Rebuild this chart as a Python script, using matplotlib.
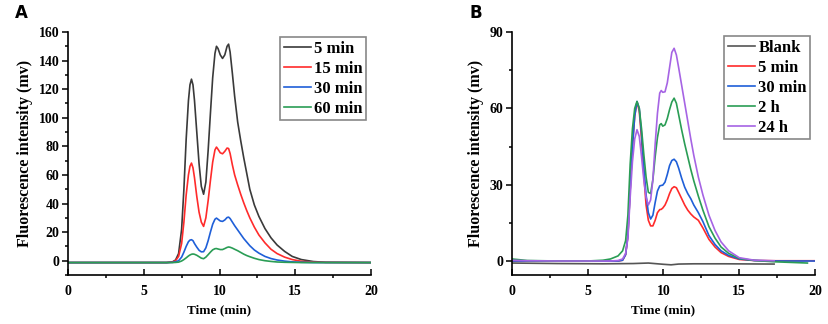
import numpy as np
import matplotlib
matplotlib.use("Agg")
import matplotlib.pyplot as plt
from matplotlib.ticker import MultipleLocator

nan = np.nan

# ---------------- Panel A data ----------------
time_a = [0, 6.5, 6.9, 7.1, 7.3, 7.5, 7.65, 7.8, 7.95, 8.05,
          8.15, 8.25, 8.35, 8.5, 8.65, 8.8, 8.95, 9.1, 9.25, 9.4,
          9.55, 9.7, 9.8, 9.9, 10.05, 10.2, 10.35, 10.5, 10.6, 10.7,
          10.85, 11.0, 11.2, 11.4, 11.6, 11.8, 12.0, 12.3, 12.6, 13.0,
          13.4, 13.8, 14.3, 14.8, 15.4, 16.2, 17, 20]
a_5min = [-1.3, -1.3, -0.8, 0.5, 5, 22, 50, 85, 112, 123,
          127, 123, 112, 90, 68, 52, 46.5, 55, 77, 103,
          128, 145, 150, 148.5, 144, 141.5, 144, 150, 151.5, 146,
          131, 115, 97, 84, 72, 61, 50, 39, 31, 22.5,
          16, 11, 6.5, 3, 0.8, -0.6, -1.1, -1.3]
a_15min = [-1.3, -1.3, -1, 0, 3, 12, 27, 46, 60, 66,
           68.3, 65, 58, 45, 34, 27, 24, 30, 42, 56,
           69, 77.5, 79.5, 78, 75.5, 74.8, 76.5, 78.8, 78.5, 75,
           67, 60, 53, 46.5, 40.5, 35, 30, 23.5, 18, 12.5,
           8, 5, 2.5, 0.8, -0.4, -1, -1.2, -1.3]
a_30min = [-1.3, -1.3, -1.2, -0.8, 0, 2.5, 6, 10, 13.3, 14.4,
           14.7, 14, 12, 9.5, 7.3, 6.2, 6.3, 9, 14, 20,
           25.5, 29, 29.8, 29, 27.8, 27.5, 28.5, 30.2, 30.5, 29.5,
           27, 24.5, 21.5, 18.5, 15.5, 13, 10.5, 7.5, 5.3, 3,
           1.5, 0.5, -0.3, -0.8, -1.1, -1.3, -1.3, -1.3]
a_60min = [-1.3, -1.3, -1.3, -1.2, -1, -0.2, 0.8, 2, 3.3, 4,
           4.5, 4.7, 4.5, 3.8, 2.8, 1.8, 1.4, 2.5, 4.2, 6,
           7.6, 8.4, 8.5, 8.2, 7.8, 7.8, 8.5, 9.3, 9.6, 9.4,
           8.8, 8, 7, 5.8, 4.6, 3.6, 2.8, 1.7, 0.8, 0,
           -0.5, -0.9, -1.1, -1.2, -1.3, -1.3, -1.3, -1.3]
labels_a = ["5 min", "15 min", "30 min", "60 min"]

# ---------------- Panel B data ----------------
time_b = [0, 1, 3, 5, 6, 6.5, 7.0, 7.3, 7.5, 7.65,
          7.8, 7.95, 8.1, 8.25, 8.4, 8.55, 8.7, 8.85, 9.0, 9.15,
          9.3, 9.45, 9.6, 9.75, 9.85, 9.95, 10.1, 10.25, 10.4, 10.55,
          10.7, 10.85, 11.0, 11.2, 11.4, 11.6, 11.8, 12.0, 12.3, 12.6,
          13.0, 13.4, 13.8, 14.3, 15.0, 16.0, 17.3, 19.5, 20]
b_5min = [0, 0, 0, 0, 0, 0, 0, 0.3, 2.5, 10,
          28, 45, 57, 62.5, 59, 48, 34, 22, 16, 13.8,
          13.8, 16, 19, 20.2, 20.3, 20.8, 22, 24, 26.5, 28.5,
          29.2, 28.8, 27, 24.5, 22, 20, 18.5, 17.3, 16, 13,
          8.5, 5.5, 3.3, 1.8, 0.6, 0.2, 0.1, 0.1, 0.1]
b_30min = [0, 0, 0, 0, 0, 0, 0, 0.3, 2.5, 10,
           28, 45, 57, 62.7, 60, 50, 37, 26, 19, 16.5,
           18, 23, 27.5, 29.5, 29.7, 29.8, 31, 34, 37.5, 39.5,
           40, 39, 36.5, 32.5, 29, 26.5, 24.5, 22, 19, 15.5,
           10, 6.5, 4, 2.2, 0.8, 0.2, 0, 0, 0]
b_2h = [0.8, 0.2, 0, 0, 0.3, 0.8, 2, 4, 8, 18,
        38, 52, 60, 62.7, 60, 52, 42, 33, 27, 26.5,
        32, 41, 48.5, 53.5, 54, 53, 53.5, 56, 59.5, 62.5,
        64, 62, 57.5, 51.5, 46, 41, 36, 31.5, 25.5, 20,
        13.5, 9, 5.5, 3, 1, 0.2, -0.3, -0.8, nan]
b_24h = [0.3, 0.1, 0, 0, 0, 0, 0.2, 0.8, 3, 9,
         25, 39, 48, 51.6, 49, 41, 32, 25, 22, 24,
         32, 46, 58, 66, 67, 66.3, 66.5, 70, 76, 82,
         83.6, 81, 76, 69, 62, 55, 48, 41.5, 33, 26,
         18, 12, 7.5, 4, 1.3, 0.3, 0.1, nan, nan]
time_blank = [0, 3, 6, 8, 9, 10, 10.5, 11, 12, 14, 17.3]
b_blank = [-0.8, -1.0, -1.1, -1.0, -0.8, -1.3, -1.5, -1.2, -1.1, -1.1, -1.2]
labels_b = ["Blank", "5 min", "30 min", "2 h", "24 h"]

col_black = "#3a3a3a"
col_red = "#ff2b2b"
col_blue = "#1f5fd8"
col_green = "#2a9d55"
col_purple = "#a664e4"
col_blank = "#555555"

serif = ["Liberation Serif", "DejaVu Serif"]
plt.rcParams["font.family"] = serif
plt.rcParams["font.weight"] = "bold"

fig = plt.figure(figsize=(8.29, 3.24), dpi=100)
axA = fig.add_axes([68/829, 1-275/324, (371-68)/829, (275-32)/324])
axB = fig.add_axes([512/829, 1-275/324, (815-512)/829, (275-32)/324])

lw = 1.2
axA.plot(time_a, a_5min, color=col_black, lw=lw, label=labels_a[0])
axA.plot(time_a, a_15min, color=col_red, lw=lw, label=labels_a[1])
axA.plot(time_a, a_30min, color=col_blue, lw=lw, label=labels_a[2])
axA.plot(time_a, a_60min, color=col_green, lw=lw, label=labels_a[3])
axA.set_ylim(-10, 160)
axA.yaxis.set_major_locator(MultipleLocator(20))
axA.yaxis.set_minor_locator(MultipleLocator(10))

axB.plot(time_blank, b_blank, color=col_blank, lw=lw, label=labels_b[0])
axB.plot(time_b, b_5min, color=col_red, lw=lw, label=labels_b[1])
axB.plot(time_b, b_30min, color=col_blue, lw=lw, label=labels_b[2])
axB.plot(time_b, b_2h, color=col_green, lw=lw, label=labels_b[3])
axB.plot(time_b, b_24h, color=col_purple, lw=lw, label=labels_b[4])
axB.set_ylim(-5.5, 90)
axB.yaxis.set_major_locator(MultipleLocator(30))
axB.yaxis.set_minor_locator(MultipleLocator(15))

anchors = {axA: (0.985, 0.979), axB: (0.985, 0.984)}
for ax in (axA, axB):
    ax.set_xlim(0, 20)
    ax.xaxis.set_major_locator(MultipleLocator(5))
    ax.xaxis.set_minor_locator(MultipleLocator(2.5))
    for s in ("top", "right"):
        ax.spines[s].set_visible(False)
    for s in ("left", "bottom"):
        ax.spines[s].set_linewidth(1.2)
        ax.spines[s].set_color("black")
    ax.tick_params(axis="x", which="major", direction="in", length=4, width=1.1, labelsize=10, pad=7)
    ax.tick_params(axis="x", which="minor", direction="out", length=2.5, width=1.1)
    ax.tick_params(axis="y", which="major", direction="out", length=4, width=1.1, labelsize=10, pad=2)
    ax.tick_params(axis="y", which="minor", direction="out", length=2.5, width=1.1)
    for lbl in ax.get_xticklabels() + ax.get_yticklabels():
        lbl.set_fontweight("bold")
    ax.set_xlabel("Time (min)", fontsize=9.5, fontweight="bold", labelpad=5)
    ax.set_ylabel("Fluorescence intensity (mv)", fontsize=11.5, fontweight="bold", labelpad=4)
    leg = ax.legend(loc="upper right", bbox_to_anchor=anchors[ax], borderaxespad=0,
                    prop={"family": serif, "weight": "bold", "size": 12},
                    handlelength=1.65, handletextpad=0.18, labelspacing=0.24,
                    borderpad=0.22, fancybox=False, framealpha=1)
    leg.get_frame().set_edgecolor("#888888")
    leg.get_frame().set_linewidth(1.2)

fig.text(15/829, 1-13/324, "A", fontsize=12, fontweight="bold", family="DejaVu Sans", va="center", ha="left")
fig.text(470/829, 1-13/324, "B", fontsize=12, fontweight="bold", family="DejaVu Sans", va="center", ha="left")

fig.savefig("out.png", dpi=100)
